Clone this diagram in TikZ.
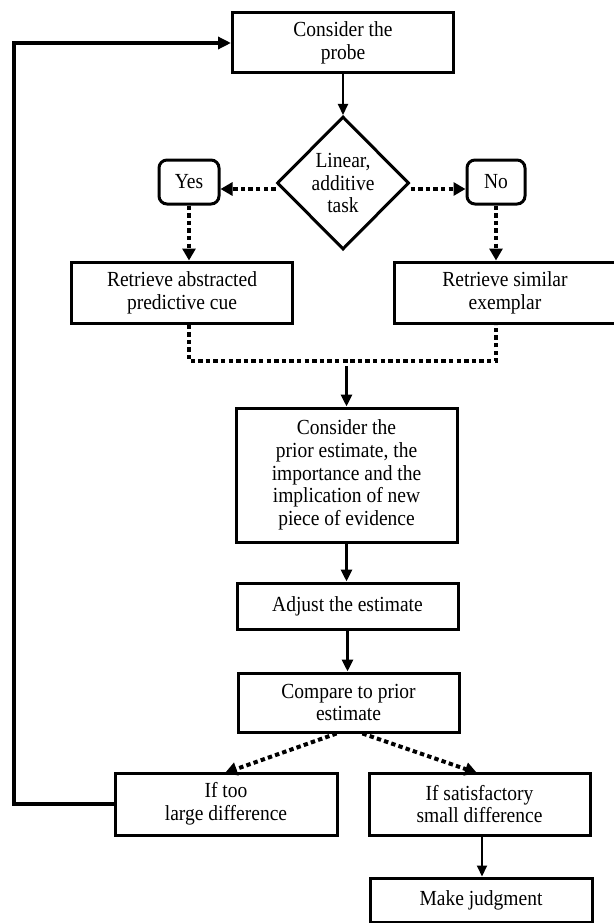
\documentclass[tikz,border=0pt]{standalone}
\usepackage{fontspec}
\setmainfont{Liberation Serif}[FakeStretch=0.907]
\usetikzlibrary{shapes.geometric,arrows.meta,calc}
\begin{document}
\begin{tikzpicture}[x=1pt,y=-1pt,
  txt/.style={font=\fontsize{21.5}{22.8}\selectfont,align=center},
  box/.style={txt,draw,line width=3pt,minimum width=221pt,inner sep=0pt},
  rbox/.style={txt,draw,line width=3pt,rounded corners=8pt,inner sep=0pt},
  dia/.style={txt,draw,line width=3pt,shape=diamond,minimum width=132pt,minimum height=133pt,inner sep=0pt},
  thinarr/.style={line width=2pt,-{Triangle[length=11pt,width=10pt]}},
  thkarr/.style={line width=3.2pt,-{Triangle[length=12pt,width=11pt]}},
  dotline/.style={line width=4pt,dash pattern=on 4.4pt off 3.2pt},
  dotarr/.style={dotline,-{Triangle[length=12pt,width=13pt]}}
]
\useasboundingbox (0,0) rectangle (613,923);

\node[box,minimum height=60pt] (probe) at (343,43) {Consider the\\probe};
\node[dia] (dec) at (343,183) {Linear,\\additive\\task};
\node[rbox,minimum width=60pt,minimum height=44pt] (yes) at (189,182) {Yes};
\node[rbox,minimum width=58pt,minimum height=44pt] (no) at (496,182) {No};
\node[box,minimum height=61pt] (abs) at (182,292.5) {Retrieve abstracted\\predictive cue};
\node[box,minimum height=61pt,minimum width=222pt] (sim) at (505,292.5) {Retrieve similar\\exemplar};
\node[box,minimum height=134pt] (cons) at (346.5,475) {Consider the\\prior estimate, the\\importance and the\\implication of new\\piece of evidence};
\node[box,minimum height=46pt] (adj) at (347.5,606) {Adjust the estimate};
\node[box,minimum height=59pt] (cmp) at (348.5,702.5) {Compare to prior\\estimate};
\node[box,minimum height=62pt,minimum width=222pt] (big) at (226,804) {If too\\large difference};
\node[box,minimum height=62pt] (sat) at (479.5,804) {If satisfactory\\small difference};
\node[box,minimum height=44pt,minimum width=222pt] (mk) at (481,900) {Make judgment};

\coordinate (mj) at (346.5,361);
\coordinate (lp) at (14,43);
\coordinate (ltip) at (225,773);
\coordinate (rtip) at (477,773);

% solid arrows
\draw[thinarr] (probe.south) -- (dec.north);
\draw[thkarr] ([yshift=-5pt]mj) -- (cons.north);
\draw[thkarr] (cons.south) -- (cons.south |- adj.north);
\draw[thkarr] (adj.south) -- (adj.south |- cmp.north);
\draw[thinarr] (sat.south -| 482,0) -- (mk.north -| 482,0);

% dotted arrows
\draw[dotarr] ([yshift=-6pt]dec.west) -- ([yshift=-6pt]dec.west -| yes.east);
\draw[dotarr] ([yshift=-6pt]dec.east) -- ([yshift=-6pt]dec.east -| no.west);
\draw[dotarr] (yes.south) -- (yes.south |- abs.north);
\draw[dotarr] (no.south) -- (no.south |- sim.north);
\draw[dotline] (yes.south |- abs.south) |- (mj) -| (no.south |- sim.south);
\draw[dotarr] ([xshift=-12pt]cmp.south) -- (ltip);
\draw[dotarr] ([xshift=14pt]cmp.south) -- (rtip);

% loop back
\draw[line width=3.5pt,-{Triangle[length=13pt,width=12pt]}] (big.west) -| (lp) -- (probe.west);
\end{tikzpicture}
\end{document}
